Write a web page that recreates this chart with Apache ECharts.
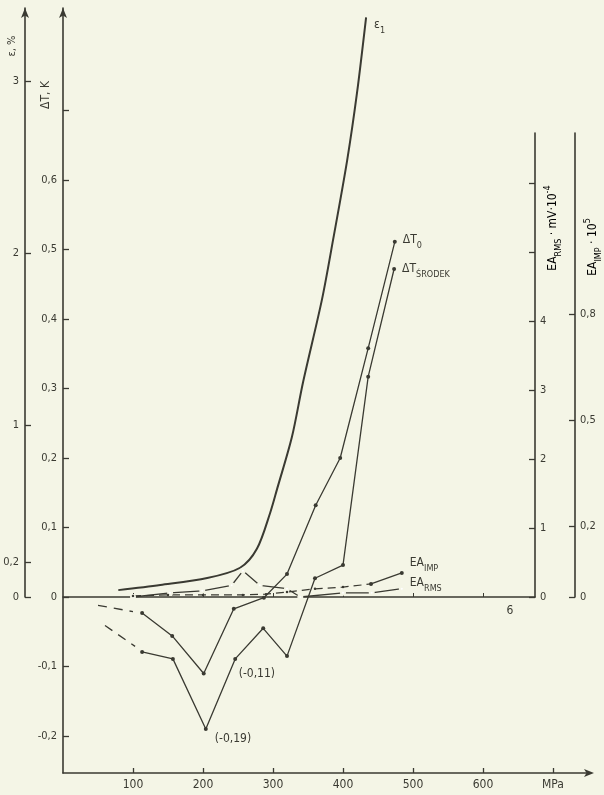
<!DOCTYPE html>
<html><head><meta charset="utf-8">
<script src="https://cdn.jsdelivr.net/npm/echarts@6/dist/echarts.min.js"></script>
<style>html,body{margin:0;padding:0;background:#f4f5e6;}#c{width:604px;height:795px;}</style>
</head><body><div id="c"></div>
<script>
const FONT = "'DejaVu Sans Condensed','Liberation Sans Narrow','DejaVu Sans',sans-serif";
const INK = '#3a3a32';
const BG = '#f4f5e6';

// stress, MPa  /  strain ε1, %
const epsMPa = [79, 139, 206, 253, 277, 296, 306, 327, 343, 370, 386, 406, 420, 433];
const epsVal = [0.04, 0.07, 0.11, 0.17, 0.28, 0.49, 0.63, 0.93, 1.25, 1.73, 2.08, 2.54, 2.93, 3.37];

// ΔT0, K
const dT0MPa = [113, 156, 201, 244, 287, 320, 361, 396, 436, 474];
const dT0Val = [-0.023, -0.056, -0.11, -0.017, -0.001, 0.033, 0.132, 0.2, 0.358, 0.511];
const dT0LeadMPa = [50, 100];
const dT0LeadVal = [-0.012, -0.021];

// ΔT środek, K
const dTsMPa = [113, 157, 204, 246, 286, 320, 360, 400, 436, 473];
const dTsVal = [-0.079, -0.089, -0.19, -0.089, -0.045, -0.085, 0.027, 0.046, 0.317, 0.472];
const dTsLeadMPa = [60, 103];
const dTsLeadVal = [-0.041, -0.071];

// EA RMS, mV·10^-4
const rmsMPa = [100, 153, 199, 241, 257, 281, 320, 339, 400, 441, 484];
const rmsVal = [0, 0.06, 0.09, 0.17, 0.38, 0.17, 0.12, 0, 0.06, 0.06, 0.12];

// EA IMP ·10^5
const impMPa = [100, 150, 200, 257, 290, 320, 360, 400, 440, 484];
const impVal = [0.003, 0.006, 0.006, 0.006, 0.008, 0.014, 0.023, 0.028, 0.037, 0.068];

// tick labels
const xTicks = [100, 200, 300, 400, 500, 600, 700];
const xEndName = 'MPa';
const dTLabels = [-0.2, -0.1, 0, 0.1, 0.2, 0.3, 0.4, 0.5, 0.6];
const dTTicks = [-0.2, -0.1, 0, 0.1, 0.2, 0.3, 0.4, 0.5, 0.6, 0.7];
const epsTicks = [0, 0.2, 1, 2, 3];
const rmsLabels = [0, 1, 2, 3, 4];
const rmsTicks = [0, 1, 2, 3, 4, 5, 6];
const impTicks = [0, 0.2, 0.5, 0.8];

const comma = v => String(Math.round(v * 1000) / 1000).replace('.', ',');
const pairs = (xs, ys) => xs.map((x, i) => [x, ys[i]]);
const argmin = a => a.indexOf(Math.min(...a));

const txt = {fontFamily: FONT, color: INK, fontSize: 12};
const rich = {
  m: {fontFamily: FONT, color: INK, fontSize: 12, lineHeight: 20},
  s: {fontFamily: FONT, color: INK, fontSize: 9, lineHeight: 10, verticalAlign: 'bottom'},
  p: {fontFamily: FONT, color: INK, fontSize: 9, lineHeight: 10, verticalAlign: 'top'}
};

function labelled(xs, ys, offset) {
  const k = argmin(ys);
  return pairs(xs, ys).map((p, i) => i === k ? {
    value: p,
    label: {show: true, position: 'right', offset: offset, formatter: '(' + comma(ys[k]) + ')', ...txt, fontSize: 12}
  } : p);
}

const axLine = {lineStyle: {color: INK, width: 1.6}};
const grids = [
  {left: 63, right: 14, top: 8, bottom: 22, outerBoundsMode: 'none'},
  {left: 63, right: 14, top: 8, bottom: 198, outerBoundsMode: 'none'},
  {left: 63, right: 69, top: 133, bottom: 198, outerBoundsMode: 'none'}
];

const base = {type: 'line', symbol: 'circle', symbolSize: 4, z: 5,
  lineStyle: {color: INK, width: 1.3}, itemStyle: {color: INK}, silent: true, animation: false};

const option = {
  backgroundColor: BG,
  animation: false,
  grid: grids,
  xAxis: [
    {gridIndex: 0, type: 'value', min: 0, max: 752.86, position: 'bottom',
      axisLine: {show: true, onZero: false, symbol: ['none', 'arrow'], symbolSize: [6, 10], symbolOffset: [0, 4], ...axLine},
      axisTick: {show: true, inside: true, length: 5, customValues: xTicks, lineStyle: {color: INK, width: 1.3}},
      axisLabel: {customValues: xTicks, formatter: v => v === 700 ? xEndName : String(v), ...txt, margin: 6, hideOverlap: false},
      splitLine: {show: false}},
    {gridIndex: 1, type: 'value', min: 0, max: 752.86, show: false},
    {gridIndex: 2, type: 'value', min: 0, max: 674.29, position: 'bottom',
      axisLine: {show: true, onZero: false, ...axLine},
      axisTick: {show: true, inside: true, length: 4, customValues: xTicks.slice(0, 6), lineStyle: {color: INK, width: 1}},
      axisLabel: {show: false}, splitLine: {show: false}}
  ],
  yAxis: [
    {gridIndex: 0, type: 'value', min: -0.2532, max: 0.8475, position: 'left',
      axisLine: {show: true, onZero: false, symbol: ['none', 'arrow'], symbolSize: [6, 10], ...axLine},
      axisTick: {show: true, inside: true, length: 6, customValues: dTTicks, lineStyle: {color: INK, width: 1.3}},
      axisLabel: {customValues: dTLabels, formatter: comma, ...txt, fontSize: 11, margin: 6, hideOverlap: false},
      splitLine: {show: false}},
    {gridIndex: 1, type: 'value', min: 0, max: 3.424, position: 'left', offset: 38,
      axisLine: {show: true, onZero: false, symbol: ['none', 'arrow'], symbolSize: [6, 10], ...axLine},
      axisTick: {show: true, inside: true, length: 6, customValues: epsTicks, lineStyle: {color: INK, width: 1.3}},
      axisLabel: {customValues: epsTicks, formatter: comma, ...txt, fontSize: 11, margin: 6, hideOverlap: false},
      splitLine: {show: false}},
    {gridIndex: 2, type: 'value', min: 0, max: 6.725, position: 'right',
      axisLine: {show: true, onZero: false, ...axLine},
      axisTick: {show: true, inside: true, length: 6, customValues: rmsTicks, lineStyle: {color: INK, width: 1.3}},
      axisLabel: {customValues: rmsLabels, formatter: comma, ...txt, fontSize: 11, margin: 5, hideOverlap: false},
      splitLine: {show: false}},
    {gridIndex: 2, type: 'value', min: 0, max: 1.311, position: 'right', offset: 40,
      axisLine: {show: true, onZero: false, ...axLine},
      axisTick: {show: true, inside: true, length: 6, customValues: impTicks, lineStyle: {color: INK, width: 1.3}},
      axisLabel: {customValues: impTicks, formatter: comma, ...txt, fontSize: 11, margin: 5, hideOverlap: false},
      splitLine: {show: false}}
  ],
  series: [
    {...base, name: 'ε1', xAxisIndex: 1, yAxisIndex: 1, data: pairs(epsMPa, epsVal), showSymbol: false,
      smooth: 0.3, lineStyle: {color: INK, width: 2},
      endLabel: {show: true, formatter: '{m|ε}{s|1}', rich: rich, offset: [0, 8]}},
    {...base, name: 'ΔT0', xAxisIndex: 0, yAxisIndex: 0, data: labelled(dT0MPa, dT0Val, [28, 0]),
      endLabel: {show: true, formatter: '{m|ΔT}{s|0}', rich: rich, offset: [0, -2]}},
    {...base, name: 'ΔT0 lead', xAxisIndex: 0, yAxisIndex: 0, data: pairs(dT0LeadMPa, dT0LeadVal), showSymbol: false,
      lineStyle: {color: INK, width: 1.3, type: [9, 7]}},
    {...base, name: 'ΔT środek', xAxisIndex: 0, yAxisIndex: 0, data: labelled(dTsMPa, dTsVal, [2, 10]),
      endLabel: {show: true, formatter: '{m|ΔT}{s|ŚRODEK}', rich: rich, offset: [0, 0]}},
    {...base, name: 'ΔT środek lead', xAxisIndex: 0, yAxisIndex: 0, data: pairs(dTsLeadMPa, dTsLeadVal), showSymbol: false,
      lineStyle: {color: INK, width: 1.3, type: [9, 7]}},
    {...base, name: 'EA RMS', xAxisIndex: 2, yAxisIndex: 2, data: pairs(rmsMPa, rmsVal), symbol: 'emptyCircle',
      symbolSize: 4, itemStyle: {color: BG, borderColor: INK, borderWidth: 1},
      endLabel: {show: true, formatter: '{m|EA}{s|RMS}', rich: rich, offset: [0, -6]}},
    {...base, name: 'EA IMP dashed', xAxisIndex: 2, yAxisIndex: 3, data: pairs(impMPa.slice(0, -1), impVal.slice(0, -1)),
      symbolSize: 2.5, lineStyle: {color: INK, width: 1.2, type: [8, 5]}},
    {...base, name: 'EA IMP', xAxisIndex: 2, yAxisIndex: 3, data: pairs(impMPa.slice(-2), impVal.slice(-2)),
      showSymbol: true, symbolSize: 4,
      endLabel: {show: true, formatter: '{m|EA}{s|IMP}', rich: rich, offset: [0, -10]}}
  ],
  graphic: [
    {type: 'text', x: 12, y: 46, rotation: Math.PI / 2, style: {text: 'ε, %', font: '11px ' + FONT, fill: INK, align: 'center', verticalAlign: 'middle'}},
    {type: 'text', x: 46, y: 95, rotation: Math.PI / 2, style: {text: 'ΔT, K', font: '12px ' + FONT, fill: INK, align: 'center', verticalAlign: 'middle'}},
    {type: 'text', x: 553, y: 228, rotation: Math.PI / 2, style: {text: '{m|EA}{s|RMS}{m| · mV·10}{p|-4}', rich: rich, align: 'center', verticalAlign: 'middle'}},
    {type: 'text', x: 593, y: 247, rotation: Math.PI / 2, style: {text: '{m|EA}{s|IMP}{m| · 10}{p|5}', rich: rich, align: 'center', verticalAlign: 'middle'}},
    {type: 'text', x: 510, y: 611, style: {text: '6', font: '12px ' + FONT, fill: INK, align: 'center', verticalAlign: 'middle'}}
  ]
};

const chart = echarts.init(document.getElementById('c'), null, {renderer: 'canvas'});
chart.setOption(option);
</script>
</body></html>
